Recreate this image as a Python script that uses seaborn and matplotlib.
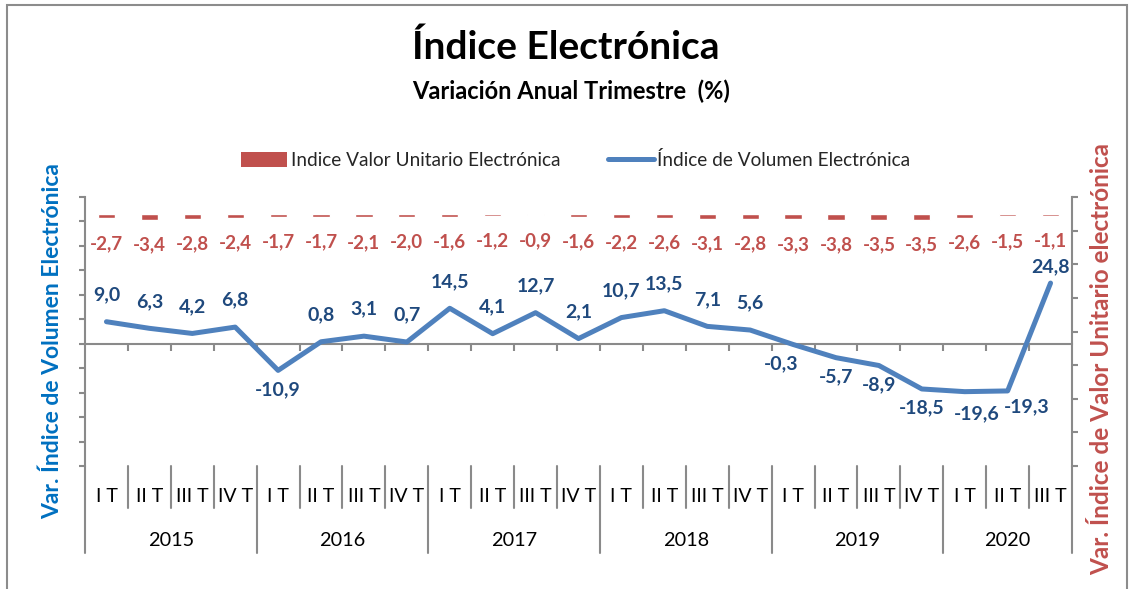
import matplotlib
matplotlib.use('Agg')
import matplotlib.pyplot as plt
import seaborn as sns
import pandas as pd
from matplotlib.patches import Patch, Rectangle
from matplotlib.lines import Line2D
from matplotlib.transforms import blended_transform_factory

# ---------------- data ----------------
years = ['2015', '2016', '2017', '2018', '2019', '2020']
quarters_per_year = [4, 4, 4, 4, 4, 3]
quarter_names = ['I T', 'II T', 'III T', 'IV T']
volumen = [9.0, 6.3, 4.2, 6.8, -10.9, 0.8, 3.1, 0.7, 14.5, 4.1, 12.7, 2.1,
           10.7, 13.5, 7.1, 5.6, -0.3, -5.7, -8.9, -18.5, -19.6, -19.3, 24.8]
valor_unitario = [-2.7, -3.4, -2.8, -2.4, -1.7, -1.7, -2.1, -2.0, -1.6, -1.2, -0.9, -1.6,
                  -2.2, -2.6, -3.1, -2.8, -3.3, -3.8, -3.5, -3.5, -2.6, -1.5, -1.1]
title = 'Índice Electrónica'
subtitle = 'Variación Anual Trimestre  (%)'
label_vu = 'Indice Valor Unitario Electrónica'
label_vol = 'Índice de Volumen Electrónica'
ylabel_left = 'Var. Índice de Volumen Electrónica'
ylabel_right = 'Var. Índice de Valor Unitario electrónica'

# label placement nudges (pixels) for a few volume labels, as in the original
vol_label_nudge = {16: (-12, 0), 20: (12, -3), 21: (19, 3), 22: (0, -11)}

periods, qlabels = [], []
for y, nq in zip(years, quarters_per_year):
    for q in range(nq):
        periods.append(f'{y} {quarter_names[q]}')
        qlabels.append(quarter_names[q])
n = len(periods)
df = pd.DataFrame({'periodo': periods, 'pos': list(range(n)),
                   'vol': volumen, 'vu': valor_unitario})

# ---------------- style ----------------
sns.set_theme(style='white')
plt.rcParams['font.family'] = ['Lato', 'DejaVu Sans']

BLUE = '#4F81BD'
DBLUE = '#1F497D'
RED = '#C0504D'
LBLUE = '#0070C0'
GRAY = '#8A8A8A'

W, H = 1129, 589
fig = plt.figure(figsize=(W / 100, H / 100), dpi=100)
fig.patch.set_facecolor('white')

def fx(px):
    return px / W

def fy(py):
    return 1 - py / H

L, R, T, B = 85, 1072, 197, 466
ax = fig.add_axes([fx(L), fy(B), fx(R - L), (B - T) / H])
ax2 = ax.twinx()

sns.lineplot(data=df, x='pos', y='vol', ax=ax, color=BLUE, linewidth=3.6,
             legend=False, zorder=3)
sns.barplot(data=df, x='pos', y='vu', ax=ax2, color=RED, width=0.4,
            saturation=1, native_scale=True, errorbar=None)

ax.set_xlim(-0.5, n - 0.5)
ax.set_ylim(-50, 60)
ax.set_yticks(range(-50, 61, 10))
ax2.set_ylim(-150, 10)
ax2.set_yticks(range(-150, 11, 20))

for a in (ax, ax2):
    a.set_xlabel('')
    a.set_ylabel('')
    a.set_facecolor('none')
    for s in a.spines.values():
        s.set_visible(False)
ax.spines['left'].set_visible(True)
ax.spines['bottom'].set_visible(True)
ax.spines['bottom'].set_position(('data', 0))
ax2.spines['right'].set_visible(True)
for s in (ax.spines['left'], ax.spines['bottom'], ax2.spines['right']):
    s.set_color(GRAY)
    s.set_linewidth(1.5)

ax.set_xticks([i + 0.5 for i in range(n - 1)])
ax.tick_params(axis='x', direction='out', length=5, width=1.5, color=GRAY,
               labelbottom=False, bottom=True)
ax.tick_params(axis='y', direction='out', length=4, width=1.5, color=GRAY,
               labelleft=False, left=True)
ax2.tick_params(axis='y', direction='out', length=4, width=1.5, color=GRAY,
                labelright=False, right=True)

# data labels
fmt = lambda v: f'{v:.1f}'.replace('.', ',')
for i, v in enumerate(valor_unitario):
    ax2.annotate(fmt(v), (i, v), xytext=(0, -25), textcoords='offset pixels',
                 ha='center', va='center', color=RED, fontsize=13.5,
                 fontweight='bold', annotation_clip=False)
for i, v in enumerate(volumen):
    dx, dy = vol_label_nudge.get(i, (0, 0))
    off = 27 if v >= 0 else -19
    ax.annotate(fmt(v), (i, v), xytext=(dx, off + dy), textcoords='offset pixels',
                ha='center', va='center', color=DBLUE, fontsize=14,
                fontweight='bold', annotation_clip=False, zorder=5)

# multi-level category axis below the plot area
tr = blended_transform_factory(ax.transData, fig.transFigure)
idx = 0
year_bounds = [-0.5]
for y, nq in zip(years, quarters_per_year):
    for q in range(nq):
        ax.text(idx, fy(496), qlabels[idx], transform=tr, ha='center',
                va='center', fontsize=14, color='black', clip_on=False)
        if q < nq - 1:
            ax.add_line(Line2D([idx + 0.5, idx + 0.5], [fy(B), fy(508)],
                               transform=tr, color=GRAY, lw=1.5, clip_on=False))
        idx += 1
    ax.text(idx - nq / 2 - 0.5, fy(540), y, transform=tr, ha='center',
            va='center', fontsize=14.3, color='black', clip_on=False)
    year_bounds.append(idx - 0.5)
for xb in year_bounds:
    ax.add_line(Line2D([xb, xb], [fy(B), fy(553)], transform=tr,
                       color=GRAY, lw=1.5, clip_on=False))

# titles
fig.text(0.501, fy(47), title, ha='center', va='center', fontsize=28,
         fontweight='bold', color='black')
fig.text(0.506, fy(91), subtitle, ha='center', va='center', fontsize=17,
         fontweight='bold', color='black')

# axis titles
fig.text(fx(52), fy(341), ylabel_left, rotation=90, ha='center', va='center',
         fontsize=16.5, fontweight='bold', color=LBLUE)
fig.text(fx(1102), fy(359), ylabel_right, rotation=90, ha='center', va='center',
         fontsize=17.5, fontweight='bold', color=RED)

# legend
handles = [Patch(facecolor=RED, edgecolor='none'),
           Line2D([0], [0], color=BLUE, lw=3.6)]
fig.legend(handles, [label_vu, label_vol], loc='center',
           bbox_to_anchor=(fx(576), fy(160)), ncol=2, frameon=False,
           fontsize=13.7, handlelength=2.4, handleheight=0.8,
           handletextpad=0.2, columnspacing=2.5)

# outer border
fig.add_artist(Rectangle((fx(7), -0.05), fx(1127 - 7), fy(5) + 0.05,
                         transform=fig.transFigure, fill=False,
                         edgecolor='#8C8C8C', lw=1.5))

fig.savefig('out.png', dpi=100)
